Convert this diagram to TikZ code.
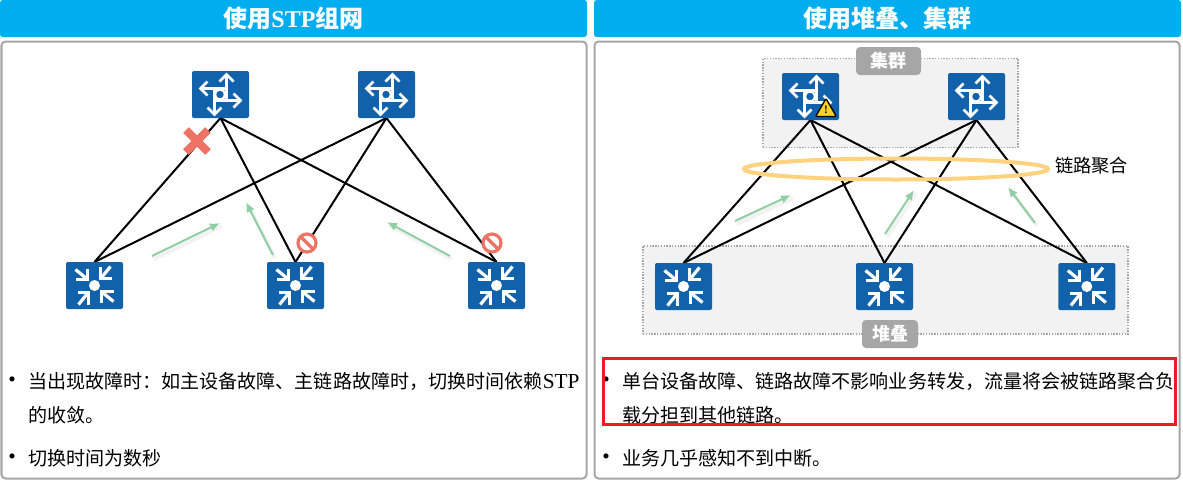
\documentclass[tikz,border=0pt]{standalone}
\usepackage{fontspec}
\setmainfont{Liberation Serif}
\newfontfamily\cjk{Noto Sans CJK SC}
\usepackage{tikz}
\usetikzlibrary{arrows.meta,positioning,shapes.geometric}
\definecolor{head}{HTML}{00AEEF}
\definecolor{edge}{HTML}{A6A6A6}
\definecolor{dev}{HTML}{1262AB}
\definecolor{soft}{HTML}{F2F2F2}
\definecolor{flow}{HTML}{8FCFA3}
\definecolor{alarm}{HTML}{EE7364}
\definecolor{lag}{HTML}{FFD27F}
\definecolor{mark}{HTML}{ED1C24}
\definecolor{warn}{HTML}{FFD21F}
\tikzset{
routerico/.pic={\fill[dev,rounded corners=1.5] (-28.5,-23.5) rectangle (28.5,23.5);
\foreach \a in {0,90,180,270}{\draw[white,line width=1.8pt,rotate=\a] (6,6.5)--(6,-19);\draw[white,line width=1.9pt,rotate=\a,line join=miter] (-1,-13)--(6,-20)--(13,-13);}
\draw[white,line width=1.6pt,fill=dev] (-0.5,0) circle (5);},
switchico/.pic={\fill[dev,rounded corners=1.5] (-28.5,-23.5) rectangle (28.5,23.5);
\fill[white] (0,0) circle (5.5);
\foreach \a in {0,90,180,270}{\draw[white,line width=2.4pt,rotate=\a] (-19,-16)--(-8,-7);\draw[white,line width=2.4pt,rotate=\a,line join=miter] (-7,-17)--(-7,-6)--(-19,-6);}},
}
\begin{document}
\begin{tikzpicture}[x=0.75pt,y=-0.75pt,every node/.style={font=\cjk,inner sep=0pt,outer sep=0pt},
hdr/.style={fill=head,rounded corners=2,minimum width=587*0.75pt,minimum height=37*0.75pt,text=white,font=\cjk\bfseries\fontsize{18}{20}\selectfont},
panel/.style={draw=edge,line width=1.5pt,rounded corners=3,fill=white,minimum width=585*0.75pt,minimum height=437*0.75pt},
devbox/.style={minimum width=57*0.75pt,minimum height=47*0.75pt},
group/.style={draw=edge,densely dotted,line width=1.1pt,fill=soft},
tag/.style={fill=edge,rounded corners=3,text=white,font=\cjk\bfseries\fontsize{13.5}{15}\selectfont},
txt/.style={anchor=west,text=black,font=\cjk\fontsize{14.3}{16}\selectfont},
dotitem/.style={anchor=center,font=\fontsize{16}{16}\selectfont},
lnk/.style={black,line width=1.5pt},
arr/.style={-{Latex[length=7.5pt,width=6.5pt]},flow,line width=1.5pt},
arrglow/.style={black,opacity=.05,line width=3pt},
flag/.style={alarm,line width=2.4pt}]
\useasboundingbox (0,0) rectangle (1183,483);
% headers and panels
\node[hdr] (hdrL) at (293.5,18.5) {使用{\rmfamily\bfseries STP}组网};
\node[hdr] (hdrR) at (887.5,18.5) {使用堆叠、集群};
\node[panel] (panelL) at (294,260) {};
\node[panel] (panelR) at (887,260) {};
% grey groups
\node[group,minimum width=255*0.75pt,minimum height=89*0.75pt] (cluster) at (890.5,103) {};
\node[group,minimum width=485*0.75pt,minimum height=88*0.75pt] (stack) at (885.5,290) {};
% left devices
\node[devbox] (r1) at (220.5,94.5) {};
\node[devbox,right=81.75pt of r1] (r2) {};
\node[devbox] (s1) at (94.5,285.5) {};
\node[devbox,right=108pt of s1] (s2) {};
\node[devbox,right=108pt of s2] (s3) {};
% right devices
\node[devbox] (r3) at (810.5,96.5) {};
\node[devbox,right=81.75pt of r3] (r4) {};
\node[devbox] (s4) at (683.5,286.5) {};
\node[devbox,right=108pt of s4] (s5) {};
\node[devbox,right=109pt of s5] (s6) {};
% links
\foreach \u in {r1,r2} \foreach \v in {s1,s2,s3} \draw[lnk] (\u.south)--(\v.north);
\foreach \u in {r3,r4} \foreach \v in {s4,s5,s6} \draw[lnk] (\u.south)--(\v.north);
\foreach \n in {r1,r2,r3,r4} \pic at (\n) {routerico};
\foreach \n in {s1,s2,s3,s4,s5,s6} \pic at (\n) {switchico};
% link aggregation ring
\node[draw=lag,line width=3pt,shape=ellipse,minimum width=304*0.75pt,minimum height=21*0.75pt] (ring) at (896,169) {};
\node[txt,font=\cjk\fontsize{13.7}{16}\selectfont] (ringtxt) at (1055,166) {链路聚合};
\node[tag,minimum width=65*0.75pt,minimum height=28*0.75pt] (tagC) at (888.5,61) {集群};
\node[tag,minimum width=56*0.75pt,minimum height=28*0.75pt] (tagS) at (890,334) {堆叠};
% failure marks
\node[minimum size=3pt] (xmark) at (197,141) {};
\draw[alarm,line width=6pt] ([shift={(-11,-11)}]xmark.center)--([shift={(11,11)}]xmark.center) ([shift={(-11,11)}]xmark.center)--([shift={(11,-11)}]xmark.center);
\foreach \n/\x in {banA/307,banB/492}{
\node[draw=alarm,fill=white,line width=2.4pt,circle,minimum size=18*0.75pt] (\n) at (\x,243) {};
\draw[flag] (\n.north west)--(\n.south east);}
% warning triangle
\node[draw=black,fill=warn,line width=1pt,shape=regular polygon,regular polygon sides=3,minimum size=24*0.75pt,rounded corners=1] (warnmark) at (826,110.5) {};
\node[font=\rmfamily\bfseries\fontsize{8.5}{9}\selectfont] (warntxt) at (826,110) {!};
% flow arrows
\foreach \n/\ax/\ay/\bx/\by in {fa/152/256/220/223,fb/273/255/246/202,fc/450/256/387/222,fd/735/221/791/195,fe/885/234/914/190,ff/1035/223/1008/187}{
\coordinate (\n a) at (\ax,\ay);\coordinate (\n b) at (\bx,\by);
\draw[arrglow] ([shift={(2,3)}]\n a)--([shift={(2,3)}]\n b);
\draw[arr] (\n a)--(\n b);}
% text
\node[dotitem] (dotA) at (12,382) {•};
\node[txt] (lineA) at (28,381) {当出现故障时：如主设备故障、主链路故障时，切换时间依赖{\rmfamily\fontsize{16}{16}\selectfont STP}};
\node[txt] (lineB) at (28,415) {的收敛。};
\node[dotitem] (dotB) at (12,459) {•};
\node[txt] (lineC) at (28,458) {切换时间为数秒};
\node[dotitem] (dotC) at (606,382) {•};
\node[txt] (lineD) at (622,381) {单台设备故障、链路故障不影响业务转发，流量将会被链路聚合负};
\node[txt] (lineE) at (622,415) {载分担到其他链路。};
\node[dotitem] (dotD) at (606,459) {•};
\node[txt] (lineF) at (622,458) {业务几乎感知不到中断。};
\node[draw=mark,line width=2.25pt,minimum width=572*0.75pt,minimum height=66*0.75pt] (focus) at (889.5,391.5) {};
\end{tikzpicture}
\end{document}
